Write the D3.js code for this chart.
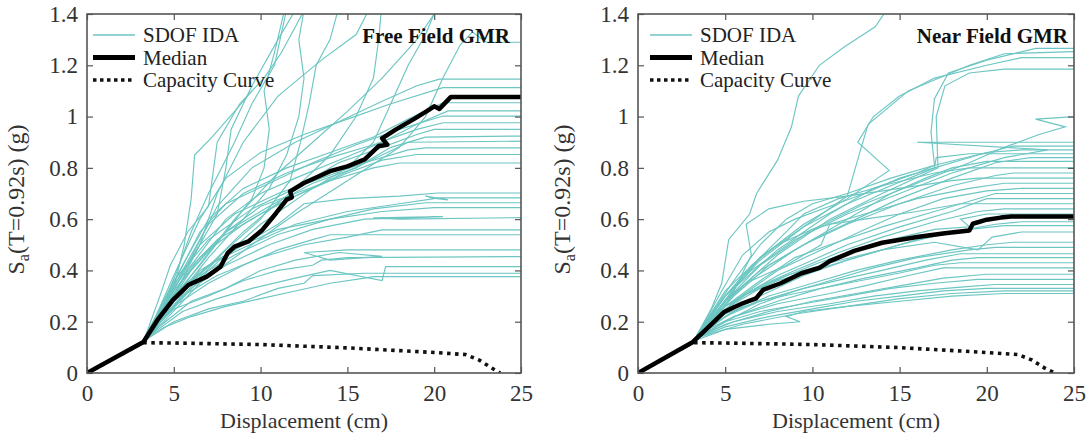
<!DOCTYPE html>
<html>
<head>
<meta charset="UTF-8">
<script src="https://d3js.org/d3.v7.min.js"></script>
<style>
  body { margin: 0; background: #fff; }
  svg { display: block; }
  svg text { font-family: "Liberation Serif", "Times New Roman", serif; }
</style>
</head>
<body>
<svg id="chart" width="1087" height="440"></svg>
<script>
const xTicks = [0, 5, 10, 15, 20, 25];
const yTicks = [0, 0.2, 0.4, 0.6, 0.8, 1, 1.2, 1.4];
const panelTitles = ["Free Field GMR", "Near Field GMR"];
const legendLabels = ["SDOF IDA", "Median", "Capacity Curve"];
const xLabel = "Displacement (cm)";

// elastic branch shared by every IDA curve
const elastic = [[0, 0], [3.2, 0.118]];

const ffCapacity = [[0, 0], [3.2, 0.118], [5, 0.117], [10, 0.111], [15, 0.098], [20, 0.08], [21.8, 0.072], [22.6, 0.05], [23.3, 0.02], [23.8, 0]];
const nfCapacity = [[0, 0], [3.1, 0.118], [5, 0.117], [10, 0.111], [15, 0.099], [19.5, 0.082], [21.8, 0.072], [22.6, 0.05], [23.3, 0.02], [23.9, 0]];

const ffMedian = [[0, 0], [3.25, 0.121], [4.05, 0.206], [4.94, 0.284], [5.83, 0.343], [6.9, 0.376], [7.7, 0.415], [8.1, 0.467], [8.5, 0.493], [9.3, 0.513],
  [10.1, 0.558], [10.9, 0.624], [11.5, 0.676], [11.8, 0.685], [11.7, 0.708], [12.5, 0.741], [14.0, 0.787], [15.0, 0.806], [16.0, 0.833], [16.8, 0.885],
  [17.3, 0.89], [17.0, 0.915], [17.8, 0.95], [18.8, 0.989], [19.6, 1.022], [20.0, 1.04], [20.3, 1.03], [20.95, 1.076], [25, 1.076]];

const nfMedian = [[0, 0], [3.15, 0.121], [4.16, 0.187], [4.96, 0.239], [5.97, 0.271], [6.77, 0.291], [7.17, 0.324], [8.18, 0.35], [9.38, 0.389], [10.4, 0.41],
  [11.0, 0.436], [12.4, 0.476], [14.0, 0.508], [16.0, 0.53], [17.6, 0.545], [19.0, 0.556], [19.2, 0.582], [20.0, 0.598], [20.8, 0.606], [21.4, 0.61], [25, 0.61]];

const ffIda = [
  [[3.3, 0.13], [4, 0.2], [5, 0.33], [5.6, 0.5], [6, 0.68], [6.2, 0.85], [7.2, 0.92], [8.5, 1.02], [9.5, 1.1]],
  [[3.4, 0.14], [4.3, 0.25], [5.2, 0.4], [6, 0.55], [7, 0.7], [8.5, 0.9], [9.5, 1.05], [10.8, 1.2], [11.6, 1.45]],
  [[3.5, 0.14], [4.5, 0.28], [5.5, 0.38], [6.5, 0.5], [7.5, 0.62], [8, 0.8], [8.3, 0.95], [9.5, 1.12], [11, 1.3], [12.3, 1.45]],
  [[3.4, 0.15], [4.2, 0.3], [4.8, 0.42], [5.8, 0.55], [7, 0.65], [7.2, 0.75], [7.5, 0.9], [8.8, 1.05], [10.2, 1.15], [11.2, 1.25], [12.8, 1.45]],
  [[3.5, 0.15], [5, 0.3], [6.5, 0.42], [8, 0.55], [9.5, 0.68], [10.2, 0.8], [10.5, 0.95], [10.2, 1.1], [10.8, 1.25], [11.5, 1.45]],
  [[3.6, 0.15], [5, 0.28], [7, 0.45], [9, 0.6], [10.5, 0.72], [11.5, 0.85], [12.2, 1.0], [12.5, 1.15], [12.2, 1.3], [12.6, 1.45]],
  [[3.5, 0.14], [5.5, 0.3], [8, 0.48], [10, 0.6], [11.7, 0.75], [12.3, 0.9], [12.8, 1.05], [13.2, 1.2], [14, 1.3], [14.6, 1.45]],
  [[3.8, 0.16], [6, 0.35], [9, 0.55], [12, 0.72], [14, 0.85], [15.5, 1.0], [16.5, 1.15], [16.8, 1.3], [17, 1.45]],
  [[4, 0.18], [7, 0.4], [10, 0.58], [13, 0.72], [15, 0.8], [16.5, 0.9], [17.5, 1.05], [18.5, 1.2], [19.5, 1.32], [20.3, 1.45]],
  [[4, 0.17], [6.5, 0.35], [9.5, 0.5], [12, 0.62], [15, 0.75], [18, 0.88], [19.5, 1.0], [20.5, 1.15], [21.5, 1.28], [22.2, 1.33], [23, 1.29], [25, 1.29]],
  [[3.6, 0.15], [5, 0.3], [6.5, 0.5], [7.5, 0.7], [9, 0.9], [11, 1.08], [13.5, 1.22], [15.5, 1.32], [16.5, 1.45]],
  [[3.7, 0.16], [6, 0.38], [8.5, 0.6], [11, 0.78], [13, 0.9], [15, 1.02], [17, 1.15], [19, 1.3], [20.5, 1.45]],
  [[3.3, 0.13], [4.5, 0.18], [6, 0.22], [8, 0.26], [10, 0.29], [12, 0.32], [14, 0.35], [16, 0.37], [16.5, 0.376], [25, 0.376]],
  [[3.4, 0.13], [5, 0.2], [7, 0.25], [9, 0.28], [11, 0.33], [12.5, 0.35], [13, 0.38], [16, 0.389], [25, 0.389]],
  [[3.5, 0.14], [5.5, 0.24], [7.5, 0.29], [9.5, 0.33], [12, 0.37], [14, 0.4], [17, 0.36], [17.2, 0.415], [25, 0.415]],
  [[3.5, 0.15], [5, 0.25], [7, 0.3], [9, 0.36], [11, 0.4], [13, 0.42], [13.5, 0.44], [15, 0.45], [25, 0.454]],
  [[3.6, 0.15], [6, 0.28], [8, 0.33], [10, 0.4], [12, 0.44], [14.5, 0.47], [17, 0.455], [14, 0.44], [12.5, 0.47], [15, 0.48], [25, 0.48]],
  [[3.4, 0.14], [5, 0.26], [7, 0.35], [9, 0.42], [11, 0.48], [13, 0.52], [14, 0.539], [25, 0.539]],
  [[3.5, 0.16], [5.5, 0.3], [7.5, 0.38], [10, 0.45], [12.5, 0.5], [15, 0.53], [17, 0.558], [25, 0.558]],
  [[3.6, 0.16], [6, 0.33], [8, 0.42], [10.5, 0.5], [13, 0.56], [16, 0.6], [20.5, 0.61], [16.5, 0.605], [18, 0.6], [25, 0.606]],
  [[3.5, 0.15], [5, 0.3], [7, 0.42], [9, 0.5], [11, 0.56], [14, 0.6], [17, 0.63], [20, 0.645], [25, 0.645]],
  [[3.7, 0.17], [6, 0.36], [8.5, 0.46], [11, 0.54], [14, 0.6], [16.5, 0.64], [19.5, 0.664], [25, 0.664]],
  [[3.6, 0.16], [5.5, 0.34], [7.5, 0.44], [10, 0.52], [12, 0.58], [15, 0.63], [18, 0.66], [20, 0.68], [19.5, 0.69], [20.8, 0.675], [19.8, 0.683], [25, 0.683]],
  [[3.8, 0.18], [6.5, 0.4], [9, 0.5], [11, 0.58], [12.5, 0.66], [15, 0.68], [18, 0.69], [20.2, 0.702], [25, 0.702]],
  [[3.5, 0.16], [5, 0.32], [6.5, 0.45], [8, 0.55], [10, 0.65], [12, 0.7], [14, 0.75], [16.5, 0.8], [18, 0.819], [25, 0.819]],
  [[3.6, 0.17], [5.5, 0.36], [7, 0.48], [9, 0.58], [11, 0.66], [13, 0.72], [15, 0.78], [17, 0.83], [19, 0.852], [25, 0.852]],
  [[3.4, 0.15], [5, 0.34], [6.5, 0.5], [8.5, 0.62], [11, 0.7], [13.5, 0.76], [16, 0.82], [18.5, 0.87], [19.5, 0.878], [25, 0.878]],
  [[3.5, 0.16], [5.5, 0.38], [7.5, 0.52], [10, 0.62], [12, 0.69], [14.5, 0.77], [17, 0.85], [18.5, 0.9], [25, 0.904]],
  [[3.7, 0.17], [6, 0.4], [8, 0.55], [10.5, 0.65], [13, 0.74], [15.5, 0.8], [17.5, 0.88], [19.5, 0.92], [25, 0.924]],
  [[3.5, 0.16], [5, 0.36], [7, 0.52], [9.5, 0.64], [12, 0.72], [14.5, 0.82], [17, 0.88], [19, 0.93], [20, 0.95], [25, 0.95]],
  [[3.6, 0.16], [5.5, 0.4], [7, 0.58], [9, 0.7], [11.5, 0.78], [14, 0.84], [16.5, 0.89], [19, 0.95], [20.5, 0.976], [25, 0.976]],
  [[3.5, 0.15], [5, 0.35], [6.5, 0.55], [8, 0.66], [10.5, 0.74], [13, 0.82], [15.5, 0.89], [18, 0.95], [20.5, 1.002], [25, 1.002]],
  [[3.8, 0.17], [6, 0.42], [8, 0.6], [10, 0.7], [12, 0.76], [14.5, 0.83], [17, 0.9], [19, 0.97], [20.8, 1.022], [25, 1.022]],
  [[3.6, 0.16], [5.5, 0.42], [7, 0.6], [9, 0.72], [11.5, 0.8], [14, 0.86], [16.5, 0.92], [18.5, 0.99], [20.5, 1.054], [25, 1.054]],
  [[3.5, 0.15], [5, 0.38], [6.5, 0.6], [8, 0.76], [10, 0.86], [12.5, 0.93], [15, 0.99], [17.5, 1.05], [20.5, 1.113], [25, 1.113]],
  [[3.7, 0.16], [6, 0.45], [7.5, 0.65], [9.5, 0.8], [12, 0.9], [14.5, 0.98], [17, 1.06], [19, 1.12], [20.3, 1.146], [25, 1.146]]
];

const nfIda = [
  [[3.4, 0.15], [4.2, 0.25], [4.8, 0.35], [5.2, 0.52], [6.4, 0.62], [6.8, 0.7], [8, 0.83], [8.8, 0.96], [9.2, 1.08], [10.4, 1.2], [11.8, 1.27], [13.6, 1.35], [14.6, 1.45]],
  [[3.5, 0.15], [5, 0.3], [7, 0.45], [9.5, 0.58], [12, 0.68], [14.4, 0.79], [12.6, 0.9], [13.5, 1.0], [15, 1.08], [17, 1.15], [20, 1.2], [22, 1.23], [25, 1.23]],
  [[3.6, 0.16], [5.5, 0.33], [8, 0.48], [11, 0.62], [13.5, 0.72], [16, 0.78], [17, 0.81], [16.8, 0.94], [17, 1.07], [17.8, 1.17], [20, 1.22], [22.8, 1.266], [25, 1.266]],
  [[3.4, 0.15], [5, 0.28], [7, 0.42], [10, 0.56], [13, 0.66], [16, 0.74], [19, 0.82], [21, 0.88], [23, 0.93], [24.5, 0.96], [22.8, 0.99], [25, 1.0]],
  [[3.5, 0.16], [5, 0.3], [7, 0.44], [9.5, 0.57], [12, 0.69], [12.8, 0.88], [13.2, 0.97], [15.5, 1.1], [19, 1.2], [21, 1.245], [25, 1.253]],
  [[3.6, 0.15], [5.5, 0.31], [8, 0.46], [11, 0.6], [14, 0.7], [17.2, 0.8], [17.1, 1.0], [17.6, 1.12], [19, 1.17], [21, 1.185], [25, 1.185]],
  [[3.5, 0.16], [5, 0.3], [6.5, 0.4], [9, 0.52], [12, 0.62], [15, 0.7], [18, 0.78], [21, 0.84], [23.5, 0.87], [16, 0.9], [25, 0.9]],
  [[3.4, 0.15], [5, 0.32], [7, 0.45], [9.5, 0.57], [12, 0.66], [14.5, 0.73], [17, 0.8], [19.5, 0.85], [21.5, 0.885], [25, 0.885]],
  [[3.6, 0.17], [5.5, 0.36], [7, 0.5], [8.5, 0.6], [10, 0.66], [12, 0.7], [14.5, 0.76], [17, 0.81], [20, 0.86], [22, 0.87], [25, 0.87]],
  [[3.5, 0.16], [4.8, 0.32], [6, 0.46], [7.5, 0.55], [9, 0.6], [11, 0.65], [13, 0.7], [15, 0.76], [17, 0.8], [17.1, 0.84], [19, 0.855], [25, 0.855]],
  [[3.4, 0.15], [5.5, 0.3], [7.5, 0.42], [10, 0.52], [12.5, 0.6], [15, 0.68], [18, 0.76], [20.5, 0.82], [22.5, 0.84], [25, 0.84]],
  [[3.7, 0.17], [6, 0.34], [9, 0.48], [12, 0.6], [14.5, 0.7], [16.5, 0.76], [18, 0.8], [20, 0.825], [25, 0.825]],
  [[3.5, 0.15], [5.2, 0.3], [7, 0.45], [8.5, 0.55], [9.5, 0.62], [11.5, 0.68], [14, 0.73], [17, 0.78], [19, 0.8], [25, 0.8]],
  [[3.6, 0.16], [5, 0.28], [7, 0.4], [9.5, 0.5], [12, 0.58], [15, 0.66], [18, 0.73], [20.5, 0.77], [21.5, 0.78], [25, 0.78]],
  [[3.4, 0.14], [5.5, 0.32], [6.5, 0.46], [6.2, 0.58], [7.5, 0.64], [9.5, 0.67], [12, 0.69], [15, 0.72], [18, 0.75], [19.5, 0.76], [25, 0.76]],
  [[3.5, 0.16], [5, 0.3], [6.5, 0.42], [8, 0.5], [10, 0.56], [13, 0.62], [16, 0.68], [19, 0.72], [21, 0.74], [25, 0.74]],
  [[3.6, 0.15], [5.5, 0.28], [8, 0.4], [10.5, 0.48], [13, 0.56], [15, 0.62], [17.5, 0.68], [20, 0.71], [22, 0.72], [25, 0.72]],
  [[3.5, 0.15], [5, 0.26], [7, 0.36], [9, 0.45], [11, 0.5], [14, 0.57], [17, 0.63], [19, 0.67], [20.5, 0.7], [25, 0.7]],
  [[3.4, 0.14], [4.5, 0.22], [6, 0.3], [8, 0.38], [10, 0.44], [12, 0.5], [15, 0.57], [18, 0.63], [20, 0.68], [25, 0.68]],
  [[3.7, 0.17], [5, 0.28], [6.5, 0.36], [8.5, 0.42], [10.5, 0.5], [11, 0.58], [13, 0.6], [16, 0.63], [18.5, 0.66], [25, 0.66]],
  [[3.5, 0.16], [5, 0.26], [7, 0.34], [9, 0.4], [11.5, 0.47], [14, 0.53], [17, 0.59], [19.5, 0.63], [21, 0.64], [25, 0.64]],
  [[3.6, 0.15], [5.5, 0.27], [7.5, 0.35], [10, 0.42], [12, 0.47], [14.5, 0.52], [17, 0.56], [19, 0.57], [18.5, 0.6], [20, 0.62], [25, 0.62]],
  [[3.4, 0.14], [5, 0.22], [7, 0.3], [9.5, 0.38], [12, 0.44], [15, 0.5], [18, 0.55], [20.5, 0.58], [22, 0.59], [25, 0.59]],
  [[3.5, 0.15], [4.5, 0.24], [6, 0.3], [8, 0.36], [10, 0.4], [13, 0.46], [16, 0.52], [19, 0.56], [21, 0.575], [25, 0.575]],
  [[3.6, 0.16], [5, 0.25], [6.5, 0.32], [8.5, 0.38], [11, 0.43], [14, 0.48], [17, 0.51], [19.5, 0.48], [20.3, 0.53], [22, 0.55], [25, 0.55]],
  [[3.5, 0.15], [5.5, 0.24], [7.5, 0.3], [10, 0.35], [12.5, 0.4], [15, 0.44], [18, 0.48], [20, 0.5], [21.5, 0.51], [25, 0.51]],
  [[3.4, 0.14], [5, 0.2], [7, 0.27], [9, 0.32], [11, 0.36], [13.5, 0.41], [16, 0.45], [19, 0.48], [20.5, 0.49], [25, 0.49]],
  [[3.6, 0.15], [5, 0.22], [7, 0.28], [9.5, 0.33], [12, 0.37], [14, 0.4], [16.5, 0.44], [18.5, 0.465], [25, 0.465]],
  [[3.5, 0.14], [5.5, 0.22], [8, 0.28], [10.5, 0.33], [13, 0.37], [16, 0.41], [18, 0.44], [19.5, 0.45], [25, 0.45]],
  [[3.4, 0.15], [5, 0.23], [7, 0.28], [9, 0.31], [12, 0.35], [15, 0.39], [17, 0.42], [18.5, 0.43], [25, 0.43]],
  [[3.7, 0.16], [5.5, 0.22], [8, 0.27], [11, 0.31], [13, 0.34], [15.5, 0.38], [17.5, 0.41], [25, 0.41]],
  [[3.5, 0.14], [5, 0.19], [7.5, 0.24], [10, 0.28], [12.5, 0.31], [15, 0.34], [17.5, 0.37], [20, 0.385], [25, 0.385]],
  [[3.4, 0.14], [5, 0.2], [7, 0.24], [9.5, 0.27], [12, 0.3], [14.5, 0.33], [17, 0.35], [19.5, 0.365], [25, 0.365]],
  [[3.6, 0.15], [5.5, 0.2], [8, 0.24], [11, 0.27], [13.5, 0.3], [16, 0.32], [18.5, 0.335], [20.5, 0.345], [25, 0.345]],
  [[3.5, 0.14], [5, 0.18], [7.5, 0.22], [10, 0.25], [12.5, 0.28], [15, 0.3], [17.5, 0.32], [20, 0.33], [25, 0.33]],
  [[3.4, 0.13], [5, 0.17], [7.5, 0.19], [9.3, 0.2], [8.5, 0.22], [9.5, 0.24], [12, 0.26], [15, 0.28], [18, 0.3], [21, 0.31], [25, 0.31]],
  [[3.5, 0.14], [6, 0.19], [9, 0.23], [12, 0.26], [15, 0.29], [18, 0.31], [21, 0.32], [25, 0.32]]
];

const panels = [
  { left: 87, right: 521, ida: ffIda, median: ffMedian, capacity: ffCapacity, title: panelTitles[0], ylabX: 24, legendDx: 6, titleDx: 11 },
  { left: 638, right: 1074, ida: nfIda, median: nfMedian, capacity: nfCapacity, title: panelTitles[1], ylabX: 570, legendDx: 12, titleDx: 6 }
];
const plotTop = 14, plotBottom = 373;
const idaColor = "#6cc6c2";

const svg = d3.select("#chart");

panels.forEach((p, pi) => {
  const x = d3.scaleLinear().domain([0, 25]).range([p.left, p.right]);
  const y = d3.scaleLinear().domain([0, 1.4]).range([plotBottom, plotTop]);
  const line = d3.line().x(d => x(d[0])).y(d => y(d[1]));

  const clipId = "clip" + pi;
  svg.append("clipPath").attr("id", clipId)
    .append("rect").attr("x", p.left).attr("y", plotTop)
    .attr("width", p.right - p.left).attr("height", plotBottom - plotTop);

  const plot = svg.append("g").attr("clip-path", `url(#${clipId})`);

  plot.selectAll(".ida").data(p.ida).enter().append("path")
    .attr("class", "ida")
    .attr("d", d => line(elastic.concat(d)))
    .attr("fill", "none").attr("stroke", idaColor).attr("stroke-width", 1.15);

  plot.append("path").attr("d", line(p.capacity))
    .attr("fill", "none").attr("stroke", "#111").attr("stroke-width", 3.6)
    .attr("stroke-dasharray", "3.5,4.5");

  plot.append("path").attr("d", line(p.median))
    .attr("fill", "none").attr("stroke", "#000").attr("stroke-width", 4.5)
    .attr("stroke-linejoin", "round");

  // axes: ticks inside on all four sides
  const styleAxis = g => {
    g.select(".domain").remove();
    g.selectAll(".tick line").attr("stroke", "#555").attr("stroke-width", 1.2);
    g.selectAll("text").attr("fill", "#333").style("font-size", "23px");
  };
  svg.append("g").attr("transform", `translate(0,${plotBottom})`)
    .call(d3.axisBottom(x).tickValues(xTicks).tickFormat(d => d).tickSizeInner(-6).tickSizeOuter(0).tickPadding(12))
    .call(styleAxis);
  svg.append("g").attr("transform", `translate(0,${plotTop})`)
    .call(d3.axisTop(x).tickValues(xTicks).tickSizeInner(-6).tickSizeOuter(0).tickFormat(""))
    .call(styleAxis);
  svg.append("g").attr("transform", `translate(${p.left},0)`)
    .call(d3.axisLeft(y).tickValues(yTicks).tickFormat(d => d).tickSizeInner(-6).tickSizeOuter(0).tickPadding(9))
    .call(styleAxis);
  svg.append("g").attr("transform", `translate(${p.right},0)`)
    .call(d3.axisRight(y).tickValues(yTicks).tickSizeInner(-6).tickSizeOuter(0).tickFormat(""))
    .call(styleAxis);

  svg.append("rect").attr("x", p.left).attr("y", plotTop)
    .attr("width", p.right - p.left).attr("height", plotBottom - plotTop)
    .attr("fill", "none").attr("stroke", "#555").attr("stroke-width", 1.6);

  // axis labels
  svg.append("text").attr("x", (p.left + p.right) / 2).attr("y", 428)
    .attr("text-anchor", "middle").attr("fill", "#333").style("font-size", "22px")
    .text(xLabel);

  const yl = svg.append("text")
    .attr("transform", `translate(${p.ylabX},${(plotTop + plotBottom) / 2 + 6}) rotate(-90)`)
    .attr("text-anchor", "middle").attr("fill", "#333").style("font-size", "24px");
  yl.append("tspan").text("S");
  yl.append("tspan").attr("dy", 5).style("font-size", "16px").text("a");
  yl.append("tspan").attr("dy", -5).text("(T=0.92s) (g)");

  // title
  svg.append("text").attr("x", p.right - p.titleDx).attr("y", 43)
    .attr("text-anchor", "end").attr("fill", "#111")
    .style("font-size", "21px").style("font-weight", "bold")
    .text(p.title);

  // legend
  const lg = svg.append("g").attr("transform", `translate(${p.left + p.legendDx},0)`);
  const legendStyles = [
    { stroke: idaColor, width: 1.4, dash: null },
    { stroke: "#000", width: 5, dash: null },
    { stroke: "#111", width: 3.6, dash: "3.5,3.5" }
  ];
  legendLabels.forEach((lab, i) => {
    const ly = 35 + i * 22.5;
    const st = legendStyles[i];
    lg.append("line").attr("x1", 0).attr("x2", 42).attr("y1", ly).attr("y2", ly)
      .attr("stroke", st.stroke).attr("stroke-width", st.width)
      .attr("stroke-dasharray", st.dash);
    lg.append("text").attr("x", 50).attr("y", ly + 7)
      .attr("fill", "#222").style("font-size", "21px").text(lab);
  });
});
</script>
</body>
</html>
